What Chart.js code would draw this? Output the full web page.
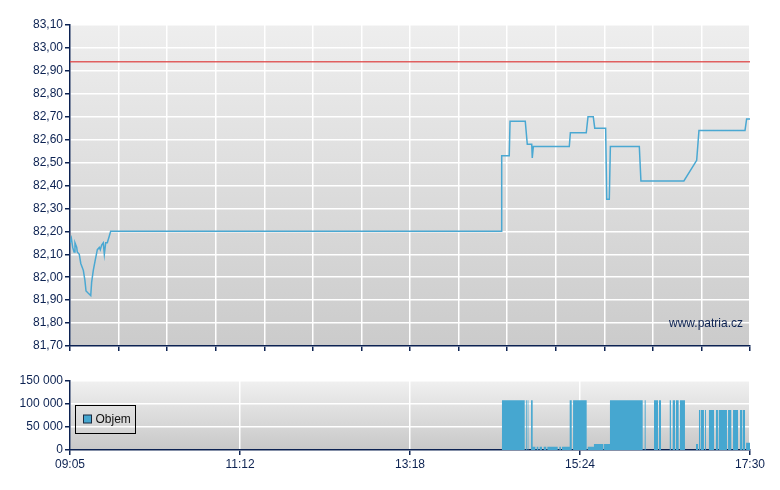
<!DOCTYPE html>
<html>
<head>
<meta charset="utf-8">
<script src="https://cdn.jsdelivr.net/npm/chart.js@4.4.0/dist/chart.umd.min.js"></script>
<style>
  body { margin: 0; background: #fff; }
  #top { position: absolute; left: 0; top: 0; width: 780px; height: 360px; }
  #bottom { position: absolute; left: 0; top: 370px; width: 780px; height: 120px; }
</style>
</head>
<body>
<div id="top"><canvas id="priceChart"></canvas></div>
<div id="bottom"><canvas id="volChart"></canvas></div>
<script>
// minutes after 09:05
const priceTimes = [0, 1, 2, 3, 3.7, 5, 5.4, 6.9, 8, 9.9, 11, 11.9, 13.6, 15.4, 16.1, 17.3, 18.6, 20.3, 21.8, 22.5, 23.5, 24.7, 25.5, 26.5, 27.7, 29.2, 30.2,
  320.1, 320.6, 326.2, 326.8, 338.1, 339.6, 342.9, 343.3, 344.1, 370.8, 371.6, 383.4, 384.7, 388.6, 389.7, 397.8, 398.6, 400.5, 401.3,
  422.8, 424, 455.9, 465.4, 467.1, 501.3, 502.5, 505];
const priceValues = [82.15, 82.17, 82.13, 82.11, 82.15, 82.13, 82.11, 82.10, 82.06, 82.03, 81.99, 81.94, 81.93, 81.92, 81.98, 82.03, 82.07, 82.12, 82.13, 82.12, 82.14, 82.15, 82.10, 82.15, 82.15, 82.18, 82.20,
  82.20, 82.53, 82.53, 82.68, 82.68, 82.58, 82.58, 82.52, 82.57, 82.57, 82.63, 82.63, 82.70, 82.70, 82.65, 82.65, 82.34, 82.34, 82.57,
  82.57, 82.42, 82.42, 82.51, 82.64, 82.64, 82.69, 82.69];
const refPrice = 82.94;

// volume: each value holds from its time until the next time
const volTimes = [0, 320.8, 337.2, 337.4, 337.9, 338.6, 339.2, 339.9, 340.4, 342.4, 343.6, 345.6, 346.6, 347.8, 348.8, 350.5, 351.8, 353.7, 354.5,
  362.2, 363.4, 364.6, 365.4, 371.1, 372.6, 373.6, 383.7, 384.5, 389.1, 396.1, 396.6, 401.0, 425.3, 426.8, 427.5, 433.7, 436.7, 437.4, 438.9,
  445.4, 446.3, 447.6, 449.3, 450.0, 452.0, 453.0, 456.7, 464.9, 466.4, 467.1, 468.1, 468.6, 470.8, 471.6, 472.3, 474.5, 478.3, 479.7,
  481.2, 481.8, 487.9, 488.7, 491.1, 492.4, 496.1, 497.6, 499.1, 499.6, 501.3, 502.1, 505];
const volValues = [0, 108000, 0, 108000, 0, 108000, 0, 108000, 0, 108000, 7000, 0, 7000, 0, 7000, 0, 7000, 0, 7000,
  0, 7000, 0, 7000, 108000, 0, 108000, 0, 7000, 13000, 0, 13000, 108000, 0, 108000, 0, 108000, 0, 108000, 0,
  108000, 0, 108000, 0, 108000, 0, 108000, 0, 13000, 0, 87000, 0, 87000, 0, 87000, 0, 87000, 0, 87000,
  0, 87000, 0, 87000, 0, 87000, 0, 87000, 0, 87000, 0, 16000, 16000];

const timeTickValues = [0, 126.25, 252.5, 378.75, 505];
const timeTickLabels = ['09:05', '11:12', '13:18', '15:24', '17:30'];
const gridSteps = 14;

const navy = '#0c2252';
const volColor = '#46a7d0';
const font = { family: 'Liberation Sans, Arial, sans-serif', size: 12 };

const plotBg = {
  id: 'plotBg',
  beforeDraw(chart, args, opts) {
    const { ctx, chartArea: a } = chart;
    const g = ctx.createLinearGradient(0, a.top, 0, a.bottom);
    g.addColorStop(0, opts.top);
    g.addColorStop(1, opts.bottom);
    ctx.save();
    ctx.fillStyle = g;
    ctx.fillRect(a.left, a.top, a.right - a.left, a.bottom - a.top);
    ctx.restore();
  }
};

const watermark = {
  id: 'watermark',
  afterDraw(chart) {
    const { ctx, chartArea: a } = chart;
    ctx.save();
    ctx.font = '12px Liberation Sans, Arial, sans-serif';
    ctx.fillStyle = navy;
    ctx.textAlign = 'right';
    ctx.textBaseline = 'middle';
    ctx.fillText('www.patria.cz', a.right - 7, a.bottom - 22);
    ctx.restore();
  }
};

const boxLegend = {
  id: 'boxLegend',
  afterDraw(chart) {
    const { ctx, chartArea: a } = chart;
    const label = chart.data.datasets[0].label;
    const x = a.left + 5.5, y = a.top + 24.5;
    ctx.save();
    ctx.strokeStyle = '#000';
    ctx.lineWidth = 1;
    ctx.strokeRect(x, y, 60, 28);
    ctx.fillStyle = volColor;
    ctx.fillRect(x + 8, y + 9.5, 8, 8);
    ctx.strokeStyle = '#1a2a40';
    ctx.strokeRect(x + 8, y + 9.5, 8, 8);
    ctx.fillStyle = '#111';
    ctx.font = '12px Liberation Sans, Arial, sans-serif';
    ctx.textBaseline = 'middle';
    ctx.fillText(label, x + 20, y + 14);
    ctx.restore();
  }
};

const axisGrid = { color: '#ffffff', lineWidth: 1.5, tickColor: navy, tickLength: 5 };
const axisBorder = { color: navy, width: 1.5 };

new Chart(document.getElementById('priceChart'), {
  type: 'line',
  data: {
    datasets: [
      {
        label: 'ref',
        data: [{ x: 0, y: refPrice }, { x: 505, y: refPrice }],
        borderColor: 'rgba(222,70,70,0.85)',
        borderWidth: 1.5,
        pointRadius: 0
      },
      {
        label: 'Cena',
        data: priceTimes.map((t, i) => ({ x: t, y: priceValues[i] })),
        borderColor: '#4aa8d2',
        borderWidth: 1.5,
        pointRadius: 0,
        tension: 0
      }
    ]
  },
  options: {
    responsive: true,
    maintainAspectRatio: false,
    animation: false,
    layout: { padding: { top: 25, right: 30, left: 0, bottom: 0 } },
    plugins: {
      legend: { display: false },
      tooltip: { enabled: false },
      plotBg: { top: '#eeeeee', bottom: '#cbcbcb' }
    },
    scales: {
      x: {
        type: 'linear',
        min: 0,
        max: 505,
        afterBuildTicks: s => { s.ticks = Array.from({ length: gridSteps + 1 }, (_, i) => ({ value: i * 505 / gridSteps })); },
        ticks: { display: false },
        grid: axisGrid,
        border: axisBorder,
        afterFit: s => { s.height = 14; }
      },
      y: {
        min: 81.7,
        max: 83.1,
        ticks: {
          stepSize: 0.1,
          color: navy,
          font: font,
          padding: 2,
          callback: v => v.toFixed(2).replace('.', ',')
        },
        grid: axisGrid,
        border: axisBorder,
        afterFit: s => { s.width = 70; }
      }
    }
  },
  plugins: [plotBg, watermark]
});

new Chart(document.getElementById('volChart'), {
  type: 'line',
  data: {
    datasets: [{
      label: 'Objem',
      data: volTimes.map((t, i) => ({ x: t, y: volValues[i] })),
      stepped: 'before',
      fill: 'origin',
      backgroundColor: volColor,
      borderColor: 'rgba(0,0,0,0)',
      borderWidth: 0,
      pointRadius: 0
    }]
  },
  options: {
    responsive: true,
    maintainAspectRatio: false,
    animation: false,
    layout: { padding: { top: 11, right: 30, left: 0, bottom: 0 } },
    plugins: {
      legend: { display: false },
      tooltip: { enabled: false },
      plotBg: { top: '#f0f0f0', bottom: '#c8c8c8' }
    },
    scales: {
      x: {
        type: 'linear',
        min: 0,
        max: 505,
        z: 1,
        afterBuildTicks: s => { s.ticks = timeTickValues.map(v => ({ value: v })); },
        ticks: {
          color: navy,
          font: font,
          padding: 2,
          maxRotation: 0,
          callback: (v, i) => timeTickLabels[i]
        },
        grid: axisGrid,
        border: axisBorder,
        afterFit: s => { s.height = 40; }
      },
      y: {
        min: 0,
        max: 150000,
        ticks: {
          stepSize: 50000,
          color: navy,
          font: font,
          padding: 2,
          callback: v => String(v).replace(/\B(?=(\d{3})+(?!\d))/g, ' ')
        },
        grid: axisGrid,
        border: axisBorder,
        afterFit: s => { s.width = 70; }
      }
    }
  },
  plugins: [plotBg, boxLegend]
});
</script>
</body>
</html>
